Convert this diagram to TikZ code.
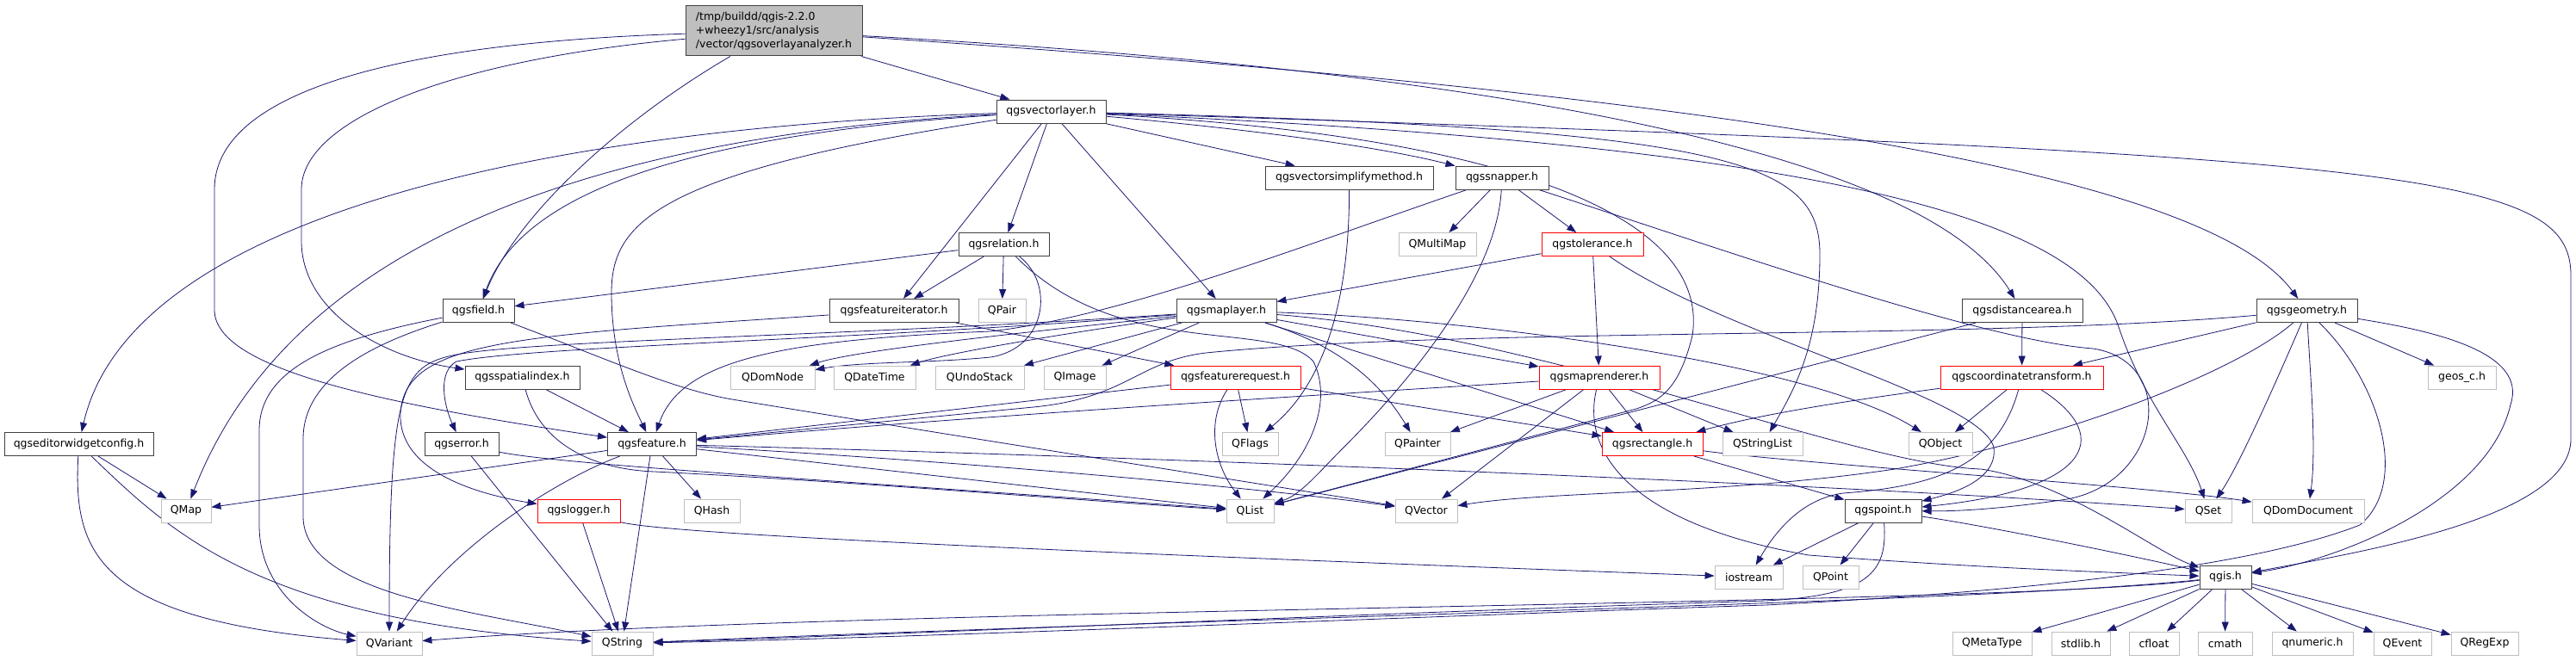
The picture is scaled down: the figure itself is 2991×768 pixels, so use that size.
\documentclass[tikz,border=0pt]{standalone}
\usepackage{fontspec}
\setmainfont{DejaVu Sans}
\usetikzlibrary{arrows.meta,backgrounds}
\definecolor{edgec}{HTML}{191970}
\definecolor{docc}{HTML}{404040}
\definecolor{extc}{HTML}{BFBFBF}
\definecolor{redc}{HTML}{FF0000}
\definecolor{mainfill}{HTML}{BFBFBF}
\begin{document}
\begin{tikzpicture}[x=1pt,y=-1pt,
 nbase/.style={rectangle, inner sep=0pt, minimum height=27pt, line width=0.85pt, font=\fontsize{12.5}{15}\selectfont, text=black},
 docbox/.style={nbase, draw=docc, fill=white, line width=1pt},
 extbox/.style={nbase, draw=extc, fill=white},
 redbox/.style={nbase, draw=redc, fill=white},
 mainbox/.style={nbase, draw=docc, fill=mainfill, line width=1pt, align=left, minimum height=58pt, font=\fontsize{12.5}{16}\selectfont},
 inc/.style={draw=edgec, line width=0.8pt, -{Triangle[length=11pt,width=8pt]}}]
\useasboundingbox (0,0) rectangle (2991,768);
% ---------- nodes ----------
\node[mainbox, minimum width=205pt] (m) at (898.5,36) {/tmp/buildd/qgis-2.2.0\\+wheezy1/src/analysis\\/vector/qgsoverlayanalyzer.h};
\node[docbox, minimum width=127pt] (vl) at (1220.5,129.5) {qgsvectorlayer.h};
\node[docbox, minimum width=195pt] (vs) at (1566.5,206.5) {qgsvectorsimplifymethod.h};
\node[docbox, minimum width=108pt] (sn) at (1744,206.5) {qgssnapper.h};
\node[docbox, minimum width=105pt] (rel) at (1165.5,284) {qgsrelation.h};
\node[extbox, minimum width=90pt] (QMultiMap) at (1669,284) {QMultiMap};
\node[redbox, minimum width=118pt] (tol) at (1849,284) {qgstolerance.h};
\node[docbox, minimum width=83pt] (fld) at (555.5,361) {qgsfield.h};
\node[docbox, minimum width=150pt] (fi) at (1038,361) {qgsfeatureiterator.h};
\node[extbox, minimum width=55pt] (QPair) at (1163.5,361) {QPair};
\node[docbox, minimum width=116pt] (ml) at (1424,361) {qgsmaplayer.h};
\node[docbox, minimum width=140pt] (dist) at (2348,361) {qgsdistancearea.h};
\node[docbox, minimum width=117pt] (gm) at (2678.5,361) {qgsgeometry.h};
\node[docbox, minimum width=133pt] (si) at (606.5,438.5) {qgsspatialindex.h};
\node[extbox, minimum width=98pt] (QDomNode) at (897,438.5) {QDomNode};
\node[extbox, minimum width=95pt] (QDateTime) at (1015.5,438.5) {QDateTime};
\node[extbox, minimum width=103pt] (QUndoStack) at (1137.5,438.5) {QUndoStack};
\node[extbox, minimum width=72pt] (QImage) at (1248,438.5) {QImage};
\node[redbox, minimum width=151pt] (fr) at (1434.5,438.5) {qgsfeaturerequest.h};
\node[redbox, minimum width=140pt] (mr) at (1857,438.5) {qgsmaprenderer.h};
\node[redbox, minimum width=189pt] (ct) at (2347.5,438.5) {qgscoordinatetransform.h};
\node[extbox, minimum width=79pt] (geos) at (2858.5,438.5) {geos\_c.h};
\node[docbox, minimum width=173pt] (ewc) at (91.5,516) {qgseditorwidgetconfig.h};
\node[docbox, minimum width=86pt] (err) at (536,516) {qgserror.h};
\node[docbox, minimum width=103pt] (ft) at (757,516) {qgsfeature.h};
\node[extbox, minimum width=65pt] (QFlags) at (1451.5,516) {QFlags};
\node[extbox, minimum width=76pt] (QPainter) at (1646,516) {QPainter};
\node[redbox, minimum width=117pt] (rect) at (1918.5,516) {qgsrectangle.h};
\node[extbox, minimum width=93pt] (QStringList) at (2046.5,516) {QStringList};
\node[extbox, minimum width=74pt] (QObject) at (2253,516) {QObject};
\node[extbox, minimum width=58pt] (QMap) at (216,593.5) {QMap};
\node[redbox, minimum width=96pt] (logger) at (672,593.5) {qgslogger.h};
\node[extbox, minimum width=65pt] (QHash) at (826.5,593.5) {QHash};
\node[extbox, minimum width=55pt] (QList) at (1451.5,593.5) {QList};
\node[extbox, minimum width=72pt] (QVector) at (1656,593.5) {QVector};
\node[docbox, minimum width=89pt] (pt) at (2186.5,593.5) {qgspoint.h};
\node[extbox, minimum width=54pt] (QSet) at (2564,593.5) {QSet};
\node[extbox, minimum width=130pt] (QDomDocument) at (2680,593.5) {QDomDocument};
\node[extbox, minimum width=79pt] (iostream) at (2030.5,670.5) {iostream};
\node[extbox, minimum width=65pt] (QPoint) at (2125.5,670.5) {QPoint};
\node[docbox, minimum width=60pt] (qgis) at (2584,670.5) {qgis.h};
\node[extbox, minimum width=76pt] (QVariant) at (452,747.5) {QVariant};
\node[extbox, minimum width=71pt] (QString) at (722.5,747.5) {QString};
\node[extbox, minimum width=92pt] (QMetaType) at (2313,747.5) {QMetaType};
\node[extbox, minimum width=68pt] (stdlib) at (2416,747.5) {stdlib.h};
\node[extbox, minimum width=58pt] (cfloat) at (2501,747.5) {cfloat};
\node[extbox, minimum width=63pt] (cmath) at (2583.5,747.5) {cmath};
\node[extbox, minimum width=94pt] (qnumeric) at (2685,747.5) {qnumeric.h};
\node[extbox, minimum width=67pt] (QEvent) at (2789.5,747.5) {QEvent};
\node[extbox, minimum width=78pt] (QRegExp) at (2885,747.5) {QRegExp};
% ---------- edges ----------
\begin{pgfonlayer}{background}
\fill[white] (0,0) rectangle (2991,768);
% main
\draw[inc] (m) -- (vl);
\draw[inc] (m) .. controls (720,140) and (600,250) .. (fld);
\draw[inc] (m) .. controls (450,50) and (249,110) .. (249,220) -- (249,360) .. controls (249,430) and (450,470) .. (ft);
\draw[inc] (m) .. controls (520,70) and (350,140) .. (350,220) -- (350,280) .. controls (350,360) and (440,415) .. (si);
\draw[inc] (m) .. controls (1700,80) and (2230,170) .. (dist);
\draw[inc] (m) .. controls (2000,110) and (2560,200) .. (gm);
% vectorlayer
\draw[inc] (vl) .. controls (600,150) and (150,260) .. (ewc);
\draw[inc] (vl) .. controls (650,160) and (330,300) .. (QMap);
\draw[inc] (vl) .. controls (750,160) and (600,240) .. (fld);
\draw[inc] (vl) .. controls (760,200) and (710,260) .. (710,340) .. controls (710,420) and (735,470) .. (ft);
\draw[inc] (vl) -- (fi);
\draw[inc] (vl) -- (rel);
\draw[inc] (vl) -- (ml);
\draw[inc] (vl) -- (vs);
\draw[inc] (vl) .. controls (1450,150) and (1600,170) .. (sn);
\draw[inc] (vl) .. controls (1780,160) and (1985,260) .. (1965,390) .. controls (1950,450) and (1930,465) .. (1900,475) -- (QList);
\draw[inc] (vl) .. controls (2030,150) and (2115,190) .. (2113,300) .. controls (2112,400) and (2085,450) .. (QStringList);
\draw[inc] (vl) .. controls (2150,170) and (2420,260) .. (2460,380) .. controls (2490,470) and (2540,520) .. (QSet);
\draw[inc] (vl) .. controls (2800,180) and (2985,200) .. (2985,320) -- (2985,510) .. controls (2985,600) and (2750,640) .. (qgis);
% relation
\draw[inc] (rel) -- (fld);
\draw[inc] (rel) -- (fi);
\draw[inc] (rel) -- (QPair);
\draw[inc] (rel) .. controls (1225,330) and (1215,405) .. (1150,415) .. controls (1080,422) and (1000,420) .. (QDomNode);
\draw[inc] (rel) .. controls (1300,420) and (1480,370) .. (1525,420) .. controls (1545,460) and (1530,520) .. (QList);
% featureiterator
\draw[inc] (fi) -- (fr);
\draw[inc] (fi) .. controls (600,390) and (470,395) .. (465,480) .. controls (462,550) and (560,575) .. (logger);
% field
\draw[inc] (fld) .. controls (380,395) and (301,430) .. (301,500) -- (301,610) .. controls (301,690) and (370,730) .. (QVariant);
\draw[inc] (fld) .. controls (430,400) and (352,440) .. (352,510) -- (352,600) .. controls (352,690) and (550,710) .. (QString);
\draw[inc] (fld) .. controls (700,415) and (780,452) .. (850,464) .. controls (1100,505) and (1450,560) .. (QVector);
% maplayer
\draw[inc] (ml) .. controls (1250,380) and (1000,405) .. (QDomNode);
\draw[inc] (ml) .. controls (1250,385) and (1100,410) .. (QDateTime);
\draw[inc] (ml) -- (QUndoStack);
\draw[inc] (ml) -- (QImage);
\draw[inc] (ml) .. controls (1000,390) and (620,395) .. (530,412) .. controls (465,425) and (452,450) .. (QVariant);
\draw[inc] (ml) .. controls (1000,395) and (620,402) .. (530,420) .. controls (508,432) and (515,470) .. (err);
\draw[inc] (ml) -- (mr);
\draw[inc] (ml) -- (rect);
\draw[inc] (ml) .. controls (1550,400) and (1600,440) .. (QPainter);
\draw[inc] (ml) .. controls (1700,370) and (2100,420) .. (QObject);
\draw[inc] (ml) .. controls (1800,390) and (2150,540) .. (2300,545) .. controls (2400,560) and (2500,640) .. (qgis);
% simplify method
\draw[inc] (vs) .. controls (1567,330) and (1545,440) .. (QFlags);
% snapper
\draw[inc] (sn) .. controls (1500,290) and (1300,368) .. (1150,385) .. controls (900,395) and (790,420) .. (ft);
\draw[inc] (sn) -- (QMultiMap);
\draw[inc] (sn) -- (tol);
\draw[inc] (sn) .. controls (1738,320) and (1640,440) .. (1560,520) .. controls (1530,550) and (1510,575) .. (QList);
\draw[inc] (sn) .. controls (2000,290) and (2300,395) .. (2430,405) .. controls (2530,420) and (2510,560) .. (2400,580) .. controls (2320,592) and (2270,594) .. (pt);
% tolerance
\draw[inc] (tol) -- (ml);
\draw[inc] (tol) -- (mr);
\draw[inc] (tol) .. controls (2000,390) and (2300,460) .. (2315,520) .. controls (2320,560) and (2260,575) .. (pt);
% distancearea
\draw[inc] (dist) -- (ct);
\draw[inc] (dist) -- (QList);
% geometry
\draw[inc] (gm) .. controls (2300,395) and (1700,380) .. (1400,410) .. controls (1320,420) and (1310,462) .. (1200,473) -- (ft);
\draw[inc] (gm) -- (ct);
\draw[inc] (gm) .. controls (2600,430) and (2400,510) .. (2200,545) .. controls (2000,575) and (1800,570) .. (QVector);
\draw[inc] (gm) .. controls (2640,450) and (2600,540) .. (QSet);
\draw[inc] (gm) .. controls (2682,430) and (2690,520) .. (QDomDocument);
\draw[inc] (gm) .. controls (2760,440) and (2800,560) .. (2740,610) .. controls (2600,665) and (2300,690) .. (2050,703) .. controls (1600,718) and (1100,740) .. (QString);
\draw[inc] (gm) -- (geos);
\draw[inc] (gm) .. controls (2830,385) and (2935,410) .. (2915,470) .. controls (2890,580) and (2720,650) .. (qgis);
% spatialindex
\draw[inc] (si) -- (ft);
\draw[inc] (si) .. controls (625,510) and (680,545) .. (760,548) .. controls (1000,560) and (1300,585) .. (QList);
% featurerequest
\draw[inc] (fr) -- (QFlags);
\draw[inc] (fr) .. controls (1400,490) and (1410,540) .. (QList);
\draw[inc] (fr) -- (ft);
\draw[inc] (fr) -- (rect);
% maprenderer
\draw[inc] (mr) .. controls (1600,455) and (1200,478) .. (ft);
\draw[inc] (mr) -- (QPainter);
\draw[inc] (mr) -- (QVector);
\draw[inc] (mr) -- (rect);
\draw[inc] (mr) -- (QStringList);
\draw[inc] (mr) .. controls (1835,530) and (1900,610) .. (2100,645) .. controls (2300,660) and (2450,665) .. (qgis);
% coordinatetransform
\draw[inc] (ct) .. controls (2150,465) and (2050,480) .. (rect);
\draw[inc] (ct) -- (QObject);
\draw[inc] (ct) .. controls (2320,540) and (2250,565) .. (2140,573) .. controls (2090,580) and (2060,620) .. (iostream);
\draw[inc] (ct) .. controls (2460,510) and (2420,570) .. (pt);
% editorwidgetconfig
\draw[inc] (ewc) -- (QMap);
\draw[inc] (ewc) .. controls (85,640) and (110,720) .. (QVariant);
\draw[inc] (ewc) .. controls (200,620) and (300,720) .. (QString);
% error
\draw[inc] (err) -- (QString);
\draw[inc] (err) .. controls (650,540) and (1000,560) .. (QList);
% feature
\draw[inc] (ft) -- (QMap);
\draw[inc] (ft) -- (QString);
\draw[inc] (ft) .. controls (640,560) and (520,640) .. (QVariant);
\draw[inc] (ft) -- (QList);
\draw[inc] (ft) -- (QHash);
\draw[inc] (ft) .. controls (1100,535) and (1450,565) .. (QVector);
\draw[inc] (ft) .. controls (1300,530) and (2100,560) .. (QSet);
% logger
\draw[inc] (logger) -- (QString);
\draw[inc] (logger) .. controls (770,620) and (1200,640) .. (iostream);
% rectangle
\draw[inc] (rect) -- (pt);
\draw[inc] (rect) .. controls (2100,540) and (2500,565) .. (QDomDocument);
% point
\draw[inc] (pt) -- (iostream);
\draw[inc] (pt) -- (QPoint);
\draw[inc] (pt) .. controls (2192,665) and (2170,692) .. (2050,698) .. controls (1600,712) and (1100,735) .. (QString);
\draw[inc] (pt) .. controls (2300,610) and (2450,640) .. (qgis);
% qgis
\draw[inc] (qgis) .. controls (2300,700) and (1500,715) .. (QString);
\draw[inc] (qgis) .. controls (2300,705) and (1000,705) .. (QVariant);
\draw[inc] (qgis) -- (QMetaType);
\draw[inc] (qgis) -- (stdlib);
\draw[inc] (qgis) -- (cfloat);
\draw[inc] (qgis) -- (cmath);
\draw[inc] (qgis) -- (qnumeric);
\draw[inc] (qgis) -- (QEvent);
\draw[inc] (qgis) -- (QRegExp);
\end{pgfonlayer}
\end{tikzpicture}
\end{document}
